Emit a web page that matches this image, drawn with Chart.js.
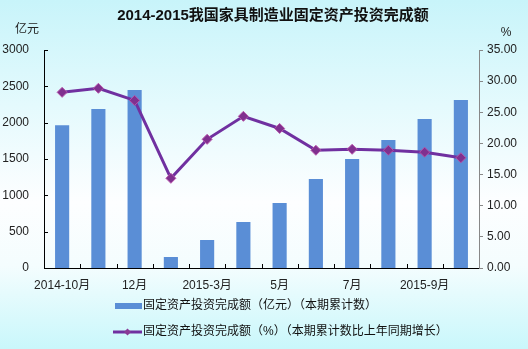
<!DOCTYPE html>
<html>
<head>
<meta charset="utf-8">
<script src="https://cdn.jsdelivr.net/npm/chart.js@4.4.1/dist/chart.umd.min.js"></script>
<style>
  html, body { margin: 0; padding: 0; }
  #wrap {
    width: 528px;
    height: 349px;
    background: linear-gradient(to bottom, #c8f4fa 0%, #e4fafd 30%, #fdfeff 58%, #f4fdfe 76%, #c9f7fb 100%);
  }
</style>
</head>
<body>
<div id="wrap"><canvas id="c" width="528" height="349"></canvas></div>
<script>
// 2014-10 .. 2015-10 (Jan and Feb 2015 reported together)
const months = ['2014-10月', '11月', '12月', '2015-2月', '2015-3月', '4月', '5月', '6月', '7月', '8月', '2015-9月', '10月']
const investment = [1965, 2188, 2450, 151, 385, 633, 894, 1225, 1500, 1761, 2050, 2312]
const growth = [28.2, 28.85, 26.9, 14.4, 20.66, 24.35, 22.4, 18.9, 19.06, 18.9, 18.6, 17.7]
const leftTicks = [0, 500, 1000, 1500, 2000, 2500, 3000]
const rightTicks = [0, 5, 10, 15, 20, 25, 30, 35]

const BAR_COLOR = '#5a8ed6'
const LINE_COLOR = '#7030a0'
const FONT = '"Liberation Sans", "Noto Sans CJK SC", sans-serif'

const barLabel = '固定资产投资完成额（亿元）（本期累计数）'
const lineLabel = '固定资产投资完成额（%）（本期累计数比上年同期增长）'

// Title, unit captions, inward tick marks and the two-row legend
const decorations = {
  id: 'decorations',
  afterDraw(chart) {
    const ctx = chart.ctx
    const area = chart.chartArea
    const x = chart.scales.x
    const y = chart.scales.y

    ctx.save()
    ctx.fillStyle = '#111'
    ctx.textBaseline = 'middle'
    ctx.textAlign = 'center'
    ctx.font = 'bold 15px ' + FONT
    ctx.fillText('2014-2015我国家具制造业固定资产投资完成额', 273, 16)

    ctx.font = '12px ' + FONT
    ctx.fillStyle = '#222'
    ctx.fillText('亿元', 27, 30)
    ctx.fillText('%', 506, 33)

    // tick marks pointing into the plot
    ctx.strokeStyle = '#000'
    ctx.lineWidth = 1
    ctx.beginPath()
    leftTicks.forEach((v) => {
      const py = Math.round(y.getPixelForValue(v)) + 0.5
      ctx.moveTo(area.left, py)
      ctx.lineTo(area.left + 4, py)
    })
    for (let i = 1; i < months.length; i++) {
      const px = Math.round((x.getPixelForValue(i - 1) + x.getPixelForValue(i)) / 2) + 0.5
      ctx.moveTo(px, area.bottom)
      ctx.lineTo(px, area.bottom - 4)
    }
    ctx.stroke()

    // legend
    ctx.textAlign = 'left'
    ctx.fillStyle = BAR_COLOR
    ctx.fillRect(115, 303, 27, 6)
    ctx.fillStyle = '#111'
    ctx.fillText(barLabel, 143, 306)

    ctx.strokeStyle = LINE_COLOR
    ctx.lineWidth = 3
    ctx.beginPath()
    ctx.moveTo(113, 332)
    ctx.lineTo(142, 332)
    ctx.stroke()
    ctx.fillStyle = '#8a3a96'
    ctx.beginPath()
    ctx.moveTo(127.5, 328.5)
    ctx.lineTo(131, 332)
    ctx.lineTo(127.5, 335.5)
    ctx.lineTo(124, 332)
    ctx.closePath()
    ctx.fill()
    ctx.fillStyle = '#111'
    ctx.fillText(lineLabel, 143, 332)
    ctx.restore()
  },
}

new Chart(document.getElementById('c'), {
  data: {
    labels: months,
    datasets: [
      {
        type: 'line',
        label: lineLabel,
        data: growth,
        yAxisID: 'y1',
        order: 0,
        borderColor: LINE_COLOR,
        borderWidth: 3,
        tension: 0,
        pointStyle: 'rectRot',
        pointRadius: 5,
        pointBackgroundColor: '#80308f',
        pointBorderColor: '#b553a8',
        pointBorderWidth: 1,
      },
      {
        type: 'bar',
        label: barLabel,
        data: investment,
        yAxisID: 'y',
        order: 1,
        backgroundColor: BAR_COLOR,
        categoryPercentage: 1,
        barPercentage: 0.39,
      },
    ],
  },
  options: {
    responsive: false,
    animation: false,
    layout: { padding: { top: 50, left: 0, right: 0, bottom: 0 } },
    plugins: {
      legend: { display: false },
      tooltip: { enabled: false },
    },
    scales: {
      x: {
        offset: true,
        grid: { display: false, offset: true, drawTicks: false, tickLength: 0 },
        border: { color: '#000', width: 1 },
        ticks: {
          autoSkip: false,
          maxRotation: 0,
          padding: 10,
          color: '#222',
          font: { family: FONT, size: 12 },
          callback: (v, i) => (i % 2 === 0 ? months[i] : ''),
        },
        afterFit: (scale) => { scale.height = 81 },
      },
      y: {
        position: 'left',
        min: 0,
        max: 3000,
        grid: { display: false, drawTicks: false, tickLength: 0 },
        border: { color: '#000', width: 1 },
        ticks: {
          stepSize: 500,
          padding: 15,
          color: '#222',
          font: { family: FONT, size: 12 },
          callback: (v) => String(v),
        },
        afterFit: (scale) => { scale.width = 44 },
      },
      y1: {
        position: 'right',
        min: 0,
        max: 35,
        grid: { drawOnChartArea: false, drawTicks: true, tickLength: 4, color: '#888' },
        border: { color: '#888', width: 1 },
        ticks: {
          stepSize: 5,
          padding: 4,
          color: '#222',
          font: { family: FONT, size: 12 },
          callback: (v) => v.toFixed(2),
        },
        afterFit: (scale) => { scale.width = 49 },
      },
    },
  },
  plugins: [decorations],
})
</script>
</body>
</html>
